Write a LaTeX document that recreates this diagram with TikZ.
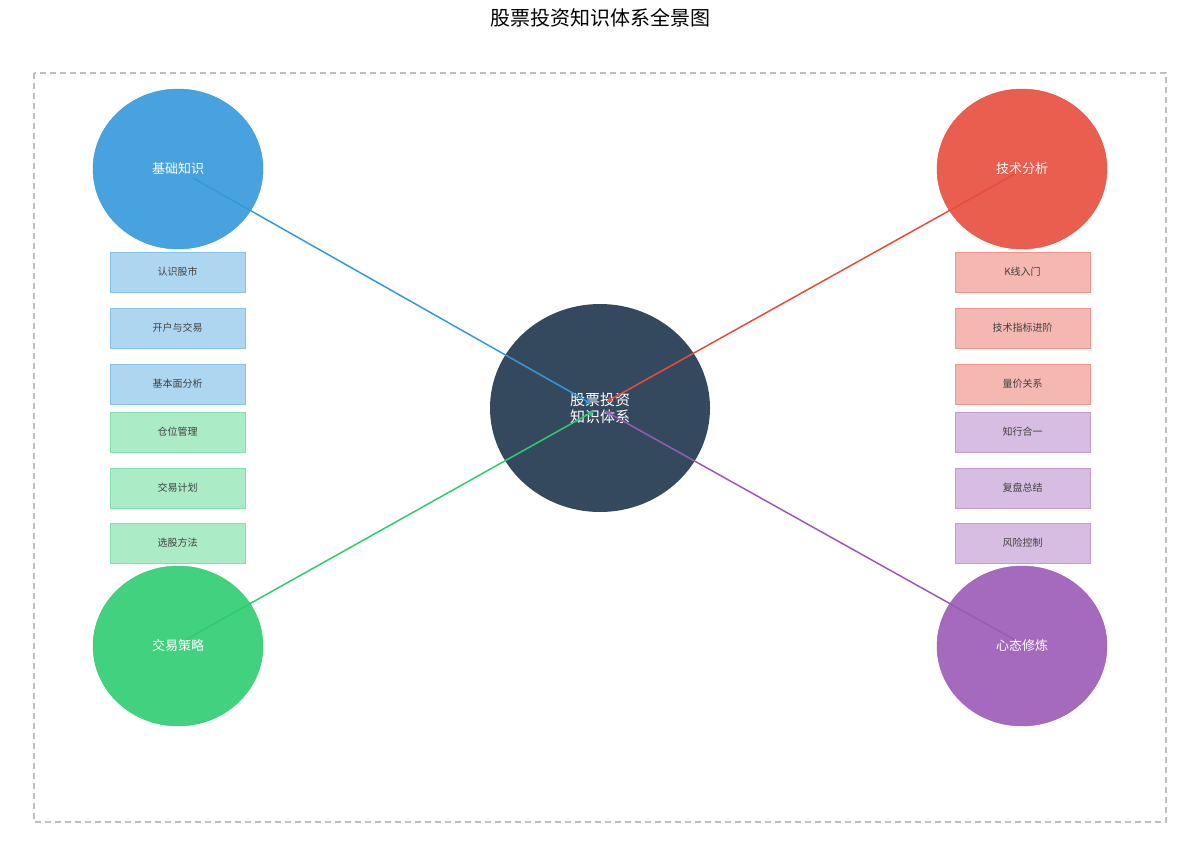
\documentclass[tikz,border=0pt]{standalone}
\usepackage{fontspec}
\setmainfont{Noto Sans CJK SC}
\usetikzlibrary{arrows.meta,shapes.geometric}
\definecolor{cb}{HTML}{3498DB}\definecolor{cr}{HTML}{E74C3C}
\definecolor{cg}{HTML}{2ECC71}\definecolor{cp}{HTML}{9B59B6}
\definecolor{cd}{HTML}{34495E}
\begin{document}
\begin{tikzpicture}[x=1pt,y=-1pt,
 big/.style={ellipse,minimum width=170pt,minimum height=160pt,fill=#1,fill opacity=0.9,text opacity=1,draw=#1,text=white,font=\fontsize{13}{15}\selectfont,inner sep=0pt},
 box/.style={rectangle,minimum width=135pt,minimum height=40pt,fill=#1!40,draw=#1!60,text=black!75,font=\fontsize{10}{12}\selectfont},
 con/.style={draw=#1,line width=1.5pt,-{Stealth[length=7pt,width=6pt]}}]
\useasboundingbox (0,0) rectangle (1200,854);
\node[font=\fontsize{20}{24}\selectfont] (t) at (600,18) {股票投资知识体系全景图};
\draw[gray!50,dashed,line width=1.5pt,dash pattern=on 6pt off 4pt] (34,73) rectangle (1166,822);
\node[ellipse,minimum width=220pt,minimum height=208pt,fill=cd,text=white,align=center,font=\fontsize{15}{17}\selectfont,inner sep=0pt] (c) at (600,408) {股票投资\\知识体系};
\node[big=cb] (a) at (178,169) {基础知识};
\node[big=cr] (b) at (1022,169) {技术分析};
\node[big=cg] (g) at (178,646) {交易策略};
\node[big=cp] (p) at (1022,646) {心态修炼};
\coordinate (a1) at (193,178); \coordinate (b1) at (1015,174);
\coordinate (g1) at (185,640); \coordinate (p1) at (1015,640);
\coordinate (ca) at (592,404); \coordinate (cb1) at (606,402);
\coordinate (cg1) at (594,411); \coordinate (cp1) at (605,411);
\draw[con=cb] (a1) -- (ca);
\draw[con=cr] (b1) -- (cb1);
\draw[con=cg] (g1) -- (cg1);
\draw[con=cp] (p1) -- (cp1);
\node[box=cb] (l1) at (177.5,272) {认识股市};
\node[box=cb] (l2) at (177.5,328) {开户与交易};
\node[box=cb] (l3) at (177.5,384) {基本面分析};
\node[box=cg] (l4) at (177.5,432) {仓位管理};
\node[box=cg] (l5) at (177.5,488) {交易计划};
\node[box=cg] (l6) at (177.5,543) {选股方法};
\node[box=cr] (r1) at (1022.5,272) {K线入门};
\node[box=cr] (r2) at (1022.5,328) {技术指标进阶};
\node[box=cr] (r3) at (1022.5,384) {量价关系};
\node[box=cp] (r4) at (1022.5,432) {知行合一};
\node[box=cp] (r5) at (1022.5,488) {复盘总结};
\node[box=cp] (r6) at (1022.5,543) {风险控制};
\end{tikzpicture}
\end{document}
